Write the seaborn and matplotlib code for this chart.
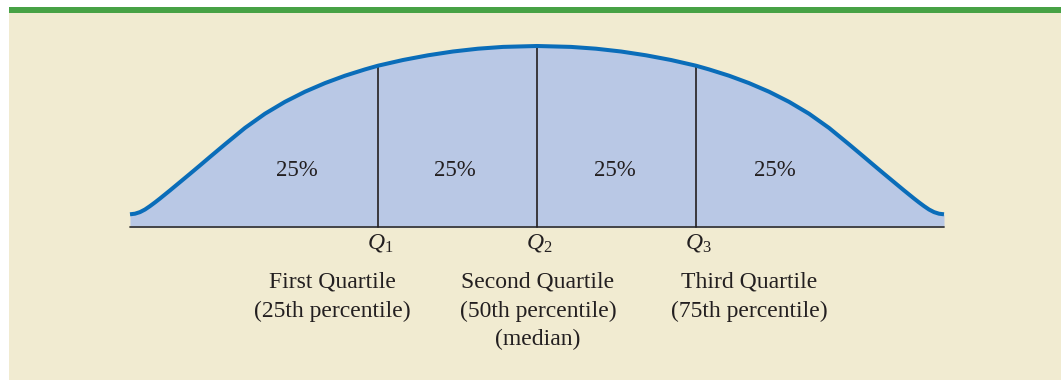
import matplotlib
matplotlib.use("Agg")
import matplotlib.pyplot as plt
import numpy as np
import pandas as pd
import seaborn as sns
from matplotlib.patches import Rectangle

# ---- data (x position, curve height above baseline) ----
curve_x = [130, 135, 140, 145, 150, 155, 160, 170, 180, 190, 200, 210, 225, 245,
           265, 285, 305, 325, 345, 365, 378, 403, 428, 453, 478, 503, 537,
           571, 596, 621, 646, 671, 696, 709, 729, 749, 769, 789, 809, 829,
           849, 864, 874, 884, 894, 904, 914, 919, 924, 929, 934, 939, 944]
curve_h = [13.0, 13.6, 15.2, 17.8, 21.2, 24.9, 28.8, 36.9, 45.2, 53.5, 61.9, 70.4, 83.0, 99.4,
           113.6, 125.5, 135.6, 144.2, 151.6, 157.9, 161.6, 167.3, 172.0, 175.8, 178.6, 180.4, 181.3,
           180.4, 178.6, 175.8, 172.0, 167.3, 161.6, 157.9, 151.6, 144.2, 135.6, 125.5, 113.6, 99.4,
           83.0, 70.4, 61.9, 53.5, 45.2, 36.9, 28.8, 24.9, 21.2, 17.8, 15.2, 13.6, 13.0]

quartile_x = [378, 537, 696]
quartile_symbols = [r"$Q_1$", r"$Q_2$", r"$Q_3$"]
quartile_names = [["First Quartile", "(25th percentile)"],
                  ["Second Quartile", "(50th percentile)", "(median)"],
                  ["Third Quartile", "(75th percentile)"]]
section_labels = ["25%", "25%", "25%", "25%"]

# ---- style ----
sns.set_theme(style="white")
plt.rcParams["font.family"] = ["Liberation Serif", "DejaVu Serif"]
plt.rcParams["mathtext.fontset"] = "custom"
plt.rcParams["mathtext.rm"] = "Liberation Serif"
plt.rcParams["mathtext.it"] = "Liberation Serif:italic"

BEIGE = "#F1EBD1"
GREEN = "#47A245"
FILL = "#B9C8E5"
LINE = "#0A6DB9"
DARK = "#231F20"

BASE = 227.3  # pixel row of the baseline

fig = plt.figure(figsize=(10.61, 3.81), dpi=100)
ax = fig.add_axes([0, 0, 1, 1])
ax.set_xlim(0, 1061)
ax.set_ylim(BASE - 381, BASE)
ax.axis("off")

# background panels
ax.add_patch(Rectangle((9, BASE - 380), 1061 - 9, 380 - 12.5, facecolor=BEIGE,
                       edgecolor="none", zorder=0))
ax.add_patch(Rectangle((9, BASE - 12.5), 1061 - 9, 5.5, facecolor=GREEN,
                       edgecolor="none", zorder=0))

df = pd.DataFrame({"x": curve_x, "h": curve_h})
ax.fill_between(df["x"], 0, df["h"], color=FILL, linewidth=0, zorder=1)
sns.lineplot(data=df, x="x", y="h", ax=ax, color=LINE, linewidth=2.9,
             sort=False, zorder=4, solid_capstyle="butt", solid_joinstyle="round")

# baseline
ax.plot([curve_x[0], curve_x[-1]], [0, 0], color="#3a3a3a", linewidth=1.3, zorder=3)

# quartile lines
for qx in quartile_x:
    qh = np.interp(qx, curve_x, curve_h)
    ax.plot([qx, qx], [0, qh], color=DARK, linewidth=1.2, zorder=3)

# section labels
sec_centers = [297, 455, 615, 775]
for cx, lab in zip(sec_centers, section_labels):
    ax.text(cx, BASE - 171, lab, ha="center", va="center", fontsize=16.5,
            color=DARK, zorder=5)

# quartile symbols
for qx, sym in zip(quartile_x, quartile_symbols):
    ax.text(qx + 2, BASE - 243, sym, ha="center", va="center", fontsize=17,
            color=DARK)

name_centers = [332, 538, 749]
line_rows = [282, 311, 339]
for cx, lines in zip(name_centers, quartile_names):
    for row, line in zip(line_rows, lines):
        ax.text(cx, BASE - row, line, ha="center", va="center", fontsize=17,
                color=DARK)

fig.savefig("out.png", dpi=100, facecolor="white")
